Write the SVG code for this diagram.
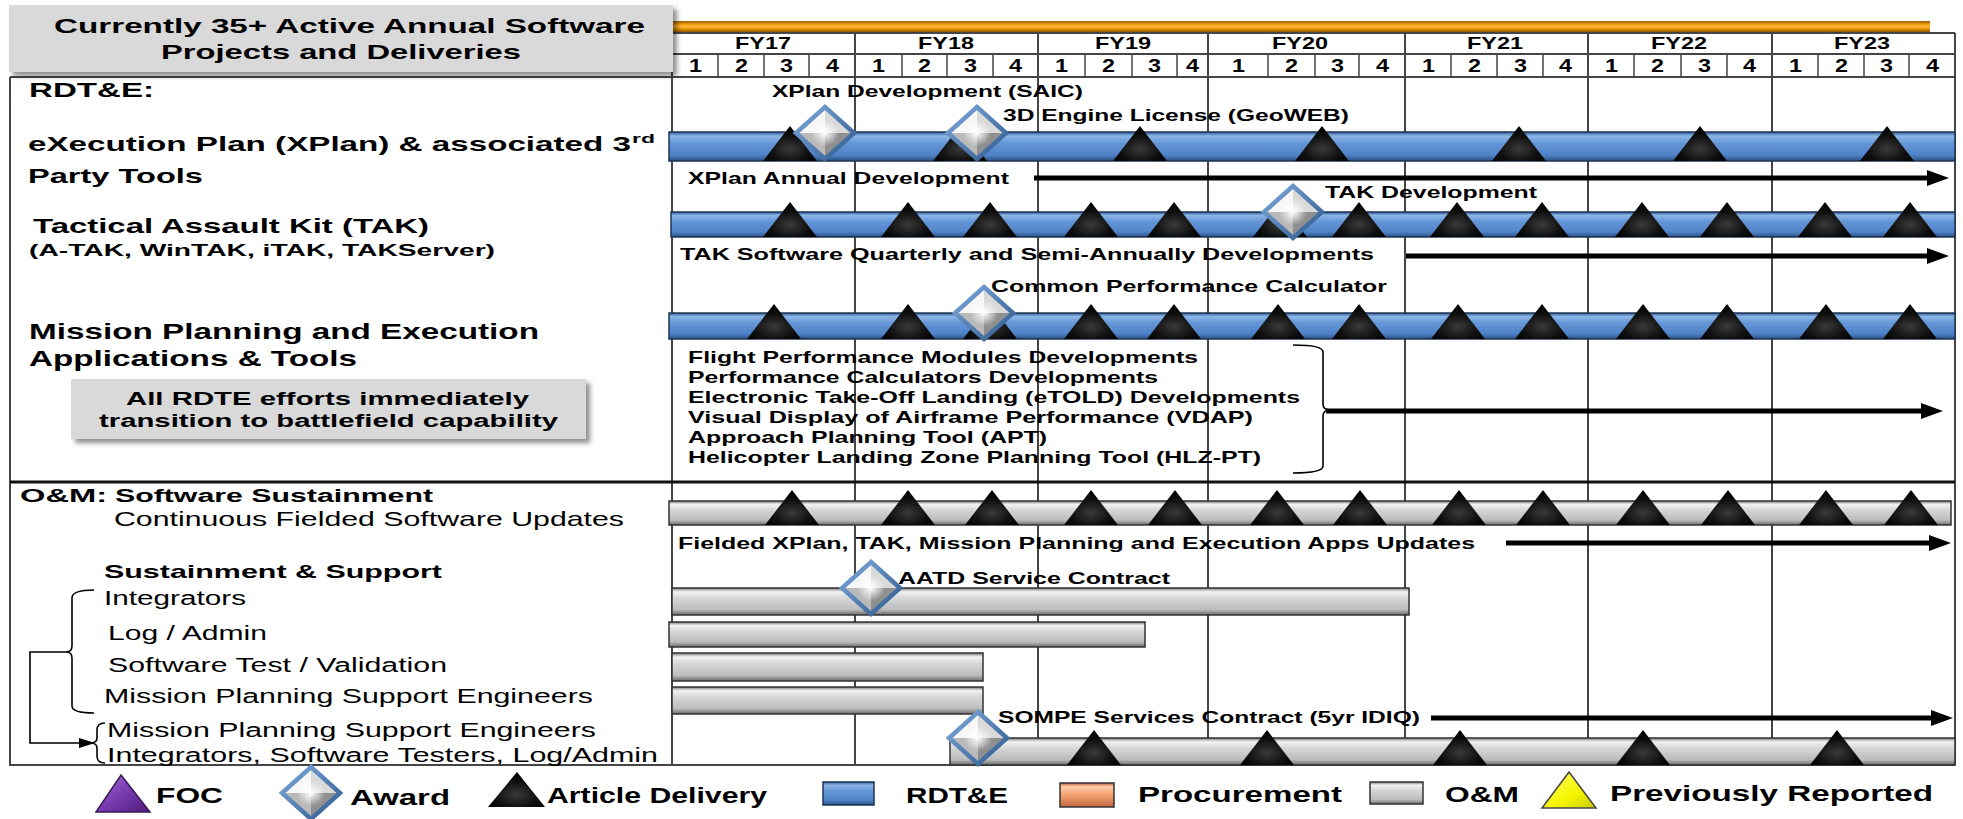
<svg xmlns="http://www.w3.org/2000/svg" width="1963" height="819" viewBox="0 0 1963 819">
<defs>
<style>
.b{font-family:"Liberation Sans",Arial,sans-serif;font-weight:bold;fill:#000}
.r{font-family:"Liberation Sans",Arial,sans-serif;fill:#000}
.gl{stroke:#454545;stroke-width:2;fill:none}
.ql{stroke:#454545;stroke-width:1.5}
.blue{fill:url(#gBlue);stroke:#1e3554;stroke-width:1.5}
.gray{fill:url(#gGray);stroke:#333;stroke-width:1.5}
.arr{stroke:#000;stroke-width:5;fill:none;marker-end:url(#ah)}
.thin{stroke:#000;stroke-width:1.6;fill:none}
</style>
<linearGradient id="gBlue" x1="0" y1="0" x2="0" y2="1">
<stop offset="0" stop-color="#2f5c96"/><stop offset="0.14" stop-color="#8db5e6"/><stop offset="0.38" stop-color="#6597d8"/><stop offset="0.8" stop-color="#4f82c6"/><stop offset="1" stop-color="#2a4f82"/>
</linearGradient>
<linearGradient id="gGray" x1="0" y1="0" x2="0" y2="1">
<stop offset="0" stop-color="#7a7a7a"/><stop offset="0.14" stop-color="#f2f2f2"/><stop offset="0.38" stop-color="#d6d6d6"/><stop offset="0.8" stop-color="#bcbcbc"/><stop offset="1" stop-color="#6a6a6a"/>
</linearGradient>
<linearGradient id="gOrange" x1="0" y1="0" x2="0" y2="1">
<stop offset="0" stop-color="#9a5a00"/><stop offset="0.3" stop-color="#e89a10"/><stop offset="0.5" stop-color="#ffb830"/><stop offset="0.75" stop-color="#e08f00"/><stop offset="1" stop-color="#8f5200"/>
</linearGradient>
<radialGradient id="gTri" cx="0.5" cy="0.65" r="0.6">
<stop offset="0" stop-color="#3a3a3a"/><stop offset="0.6" stop-color="#101010"/><stop offset="1" stop-color="#000"/>
</radialGradient>
<radialGradient id="gGlow" cx="0.5" cy="0.5" r="0.5">
<stop offset="0" stop-color="#fff" stop-opacity="1"/><stop offset="0.45" stop-color="#fff" stop-opacity="0.55"/><stop offset="1" stop-color="#fff" stop-opacity="0"/>
</radialGradient>
<linearGradient id="gDiaEdge" x1="0" y1="0" x2="1" y2="1">
<stop offset="0" stop-color="#7ea9dc"/><stop offset="1" stop-color="#2f5a8e"/>
</linearGradient>
<linearGradient id="gPurple" x1="0" y1="0" x2="1" y2="1">
<stop offset="0" stop-color="#a46ad2"/><stop offset="0.5" stop-color="#7a3bb0"/><stop offset="1" stop-color="#4e1d7a"/>
</linearGradient>
<linearGradient id="gSalmon" x1="0" y1="0" x2="0" y2="1">
<stop offset="0" stop-color="#b5633a"/><stop offset="0.15" stop-color="#fcc9a4"/><stop offset="0.5" stop-color="#f4a274"/><stop offset="1" stop-color="#c0673e"/>
</linearGradient>
<linearGradient id="gYellow" x1="0" y1="0" x2="1" y2="1">
<stop offset="0" stop-color="#ffff70"/><stop offset="0.6" stop-color="#f5f500"/><stop offset="1" stop-color="#caca00"/>
</linearGradient>
<filter id="shadow" x="-5%" y="-10%" width="115%" height="135%">
<feGaussianBlur in="SourceAlpha" stdDeviation="2.5"/><feOffset dx="4" dy="4" result="o"/>
<feComponentTransfer><feFuncA type="linear" slope="0.45"/></feComponentTransfer>
<feMerge><feMergeNode/><feMergeNode in="SourceGraphic"/></feMerge>
</filter>
<path id="tri" d="M0,-35 L27,0 L-27,0 Z" fill="url(#gTri)"/>
<g id="dia">
<path d="M0,-26 L-29,0 L0,0 Z" fill="#f7f7f7"/>
<path d="M0,-26 L29,0 L0,0 Z" fill="#d9d9d9"/>
<path d="M-29,0 L0,26 L0,0 Z" fill="#b9b9b9"/>
<path d="M29,0 L0,26 L0,0 Z" fill="#8f8f8f"/>
<ellipse cx="0" cy="0" rx="14" ry="13" fill="url(#gGlow)"/>
<path d="M0,-26 L29,0 L0,26 L-29,0 Z" fill="none" stroke="url(#gDiaEdge)" stroke-width="4.5"/>
</g>
<marker id="ah" viewBox="0 0 22 16" refX="7" refY="8" markerWidth="22" markerHeight="16" markerUnits="userSpaceOnUse" orient="auto"><path d="M0,0 L22,8 L0,16 Z" fill="#000"/></marker>
<marker id="ahs" viewBox="0 0 16 10" refX="4" refY="5" markerWidth="16" markerHeight="10" markerUnits="userSpaceOnUse" orient="auto"><path d="M0,0 L16,5 L0,10 Z" fill="#000"/></marker>
</defs>

<rect width="1963" height="819" fill="#fff"/>

<!-- timeline header -->
<g id="timeline-header">
<rect x="600" y="21" width="1330" height="11" fill="url(#gOrange)"/>
<path class="gl" d="M672,33 H1955 M672,54 H1955 M672,77 H1955"/>
<path class="gl" d="M672,33 V765 M855,33 V765 M1038,33 V765 M1208,33 V765 M1405,33 V765 M1588,33 V765 M1772,33 V765 M1955,33 V765"/>
<path class="ql" d="M718,54V77 M764,54V77 M809,54V77 M902,54V77 M947,54V77 M993,54V77 M1085,54V77 M1132,54V77 M1177,54V77 M1268,54V77 M1315,54V77 M1359,54V77 M1451,54V77 M1497,54V77 M1543,54V77 M1634,54V77 M1681,54V77 M1727,54V77 M1818,54V77 M1864,54V77 M1909,54V77"/>
<g class="b" font-size="17">
<text x="735" y="49" textLength="56" lengthAdjust="spacingAndGlyphs">FY17</text>
<text x="918" y="49" textLength="56" lengthAdjust="spacingAndGlyphs">FY18</text>
<text x="1095" y="49" textLength="56" lengthAdjust="spacingAndGlyphs">FY19</text>
<text x="1272" y="49" textLength="56" lengthAdjust="spacingAndGlyphs">FY20</text>
<text x="1467" y="49" textLength="56" lengthAdjust="spacingAndGlyphs">FY21</text>
<text x="1651" y="49" textLength="56" lengthAdjust="spacingAndGlyphs">FY22</text>
<text x="1834" y="49" textLength="56" lengthAdjust="spacingAndGlyphs">FY23</text>
</g>
<g class="b" font-size="17.5">
<text x="689" y="72" textLength="13" lengthAdjust="spacingAndGlyphs">1</text><text x="735" y="72" textLength="13" lengthAdjust="spacingAndGlyphs">2</text><text x="780" y="72" textLength="13" lengthAdjust="spacingAndGlyphs">3</text><text x="826" y="72" textLength="13" lengthAdjust="spacingAndGlyphs">4</text>
<text x="872" y="72" textLength="13" lengthAdjust="spacingAndGlyphs">1</text><text x="918" y="72" textLength="13" lengthAdjust="spacingAndGlyphs">2</text><text x="964" y="72" textLength="13" lengthAdjust="spacingAndGlyphs">3</text><text x="1009" y="72" textLength="13" lengthAdjust="spacingAndGlyphs">4</text>
<text x="1055" y="72" textLength="13" lengthAdjust="spacingAndGlyphs">1</text><text x="1102" y="72" textLength="13" lengthAdjust="spacingAndGlyphs">2</text><text x="1148" y="72" textLength="13" lengthAdjust="spacingAndGlyphs">3</text><text x="1186" y="72" textLength="13" lengthAdjust="spacingAndGlyphs">4</text>
<text x="1232" y="72" textLength="13" lengthAdjust="spacingAndGlyphs">1</text><text x="1285" y="72" textLength="13" lengthAdjust="spacingAndGlyphs">2</text><text x="1331" y="72" textLength="13" lengthAdjust="spacingAndGlyphs">3</text><text x="1376" y="72" textLength="13" lengthAdjust="spacingAndGlyphs">4</text>
<text x="1422" y="72" textLength="13" lengthAdjust="spacingAndGlyphs">1</text><text x="1468" y="72" textLength="13" lengthAdjust="spacingAndGlyphs">2</text><text x="1514" y="72" textLength="13" lengthAdjust="spacingAndGlyphs">3</text><text x="1559" y="72" textLength="13" lengthAdjust="spacingAndGlyphs">4</text>
<text x="1605" y="72" textLength="13" lengthAdjust="spacingAndGlyphs">1</text><text x="1651" y="72" textLength="13" lengthAdjust="spacingAndGlyphs">2</text><text x="1698" y="72" textLength="13" lengthAdjust="spacingAndGlyphs">3</text><text x="1743" y="72" textLength="13" lengthAdjust="spacingAndGlyphs">4</text>
<text x="1789" y="72" textLength="13" lengthAdjust="spacingAndGlyphs">1</text><text x="1835" y="72" textLength="13" lengthAdjust="spacingAndGlyphs">2</text><text x="1880" y="72" textLength="13" lengthAdjust="spacingAndGlyphs">3</text><text x="1926" y="72" textLength="13" lengthAdjust="spacingAndGlyphs">4</text>
</g>
</g>

<!-- left panel frame -->
<g id="frame">
<path class="gl" d="M10,77 H672 M10,77 V765 H1955"/>
<path d="M10,482 H1955" stroke="#111" stroke-width="3"/>
</g>

<g id="title-box">
<rect x="9" y="5" width="664" height="67" fill="#d9d9d9" filter="url(#shadow)"/>
<text class="b" x="54" y="33" font-size="21" textLength="591" lengthAdjust="spacingAndGlyphs" fill="#1a1a1a">Currently 35+ Active Annual Software</text>
<text class="b" x="161" y="59" font-size="21" textLength="360" lengthAdjust="spacingAndGlyphs" fill="#1a1a1a">Projects and Deliveries</text>
</g>

<!-- RDT&E section labels -->
<g id="rdte-labels">
<text class="b" x="29" y="97" font-size="20" textLength="125" lengthAdjust="spacingAndGlyphs">RDT&amp;E:</text>
<text class="b" x="28" y="151" font-size="21" textLength="603" lengthAdjust="spacingAndGlyphs">eXecution Plan (XPlan) &amp; associated 3</text>
<text class="b" x="632" y="143" font-size="13" textLength="23" lengthAdjust="spacingAndGlyphs">rd</text>
<text class="b" x="28" y="183" font-size="21" textLength="175" lengthAdjust="spacingAndGlyphs">Party Tools</text>
<text class="b" x="33" y="233" font-size="21" textLength="396" lengthAdjust="spacingAndGlyphs">Tactical Assault Kit (TAK)</text>
<text class="b" x="29" y="256" font-size="17" textLength="466" lengthAdjust="spacingAndGlyphs">(A-TAK, WinTAK, iTAK, TAKServer)</text>
<text class="b" x="29" y="339" font-size="22" textLength="510" lengthAdjust="spacingAndGlyphs">Mission Planning and Execution</text>
<text class="b" x="29" y="366" font-size="22" textLength="328" lengthAdjust="spacingAndGlyphs">Applications &amp; Tools</text>
</g>
<g id="note-box">
<rect x="71" y="379" width="515" height="60" fill="#d9d9d9" filter="url(#shadow)"/>
<text class="b" x="126" y="405" font-size="18" textLength="403" lengthAdjust="spacingAndGlyphs" fill="#1a1a1a">All RDTE efforts immediately</text>
<text class="b" x="99" y="427" font-size="18" textLength="459" lengthAdjust="spacingAndGlyphs" fill="#1a1a1a">transition to battlefield capability</text>
</g>

<!-- O&M section labels -->
<g id="om-labels">
<text class="b" x="20" y="502" font-size="19" textLength="87" lengthAdjust="spacingAndGlyphs">O&amp;M:</text>
<text class="b" x="115" y="502" font-size="18" textLength="318" lengthAdjust="spacingAndGlyphs">Software Sustainment</text>
<text class="r" x="114" y="526" font-size="21" textLength="510" lengthAdjust="spacingAndGlyphs">Continuous Fielded Software Updates</text>
<text class="b" x="104" y="578" font-size="19" textLength="338" lengthAdjust="spacingAndGlyphs">Sustainment &amp; Support</text>
<text class="r" x="104" y="605" font-size="20" textLength="142" lengthAdjust="spacingAndGlyphs">Integrators</text>
<text class="r" x="108" y="640" font-size="20" textLength="159" lengthAdjust="spacingAndGlyphs">Log / Admin</text>
<text class="r" x="108" y="672" font-size="20" textLength="339" lengthAdjust="spacingAndGlyphs">Software Test / Validation</text>
<text class="r" x="104" y="703" font-size="20" textLength="489" lengthAdjust="spacingAndGlyphs">Mission Planning Support Engineers</text>
<text class="r" x="107" y="737" font-size="20" textLength="489" lengthAdjust="spacingAndGlyphs">Mission Planning Support Engineers</text>
<text class="r" x="107" y="762" font-size="20" textLength="551" lengthAdjust="spacingAndGlyphs">Integrators, Software Testers, Log/Admin</text>
</g>

<!-- XPlan row -->
<g id="row-xplan">
<rect class="blue" x="669" y="132" width="1286" height="29"/>
<use href="#tri" x="790" y="161"/><use href="#tri" x="960" y="161"/><use href="#tri" x="1140" y="161"/><use href="#tri" x="1322" y="161"/><use href="#tri" x="1519" y="161"/><use href="#tri" x="1700" y="161"/><use href="#tri" x="1887" y="161"/>
<use href="#dia" x="825" y="133"/><use href="#dia" x="977" y="133"/>
<text class="b" x="772" y="97" font-size="17" textLength="311" lengthAdjust="spacingAndGlyphs">XPlan Development (SAIC)</text>
<text class="b" x="1003" y="121" font-size="17" textLength="346" lengthAdjust="spacingAndGlyphs">3D Engine License (GeoWEB)</text>
<text class="b" x="688" y="184" font-size="17" textLength="321" lengthAdjust="spacingAndGlyphs">XPlan Annual Development</text>
</g>

<!-- TAK row -->
<g id="row-tak">
<rect class="blue" x="671" y="212" width="1284" height="25"/>
<use href="#tri" x="790" y="237"/><use href="#tri" x="908" y="237"/><use href="#tri" x="990" y="237"/><use href="#tri" x="1091" y="237"/><use href="#tri" x="1174" y="237"/><use href="#tri" x="1280" y="237"/><use href="#tri" x="1359" y="237"/><use href="#tri" x="1457" y="237"/><use href="#tri" x="1542" y="237"/><use href="#tri" x="1642" y="237"/><use href="#tri" x="1727" y="237"/><use href="#tri" x="1825" y="237"/><use href="#tri" x="1910" y="237"/>
<use href="#dia" x="1293" y="212"/>
<text class="b" x="1325" y="198" font-size="17" textLength="212" lengthAdjust="spacingAndGlyphs">TAK Development</text>
<text class="b" x="680" y="260" font-size="17" textLength="694" lengthAdjust="spacingAndGlyphs">TAK Software Quarterly and Semi-Annually Developments</text>
</g>

<!-- Mission planning row -->
<g id="row-mission">
<rect class="blue" x="669" y="313" width="1286" height="26"/>
<use href="#tri" x="774" y="339"/><use href="#tri" x="908" y="339"/><use href="#tri" x="990" y="339"/><use href="#tri" x="1091" y="339"/><use href="#tri" x="1174" y="339"/><use href="#tri" x="1278" y="339"/><use href="#tri" x="1359" y="339"/><use href="#tri" x="1458" y="339"/><use href="#tri" x="1542" y="339"/><use href="#tri" x="1643" y="339"/><use href="#tri" x="1727" y="339"/><use href="#tri" x="1826" y="339"/><use href="#tri" x="1910" y="339"/>
<use href="#dia" x="984" y="313"/>
<text class="b" x="991" y="292" font-size="17" textLength="396" lengthAdjust="spacingAndGlyphs">Common Performance Calculator</text>
<g class="b" font-size="16.5">
<text x="688" y="363" textLength="510" lengthAdjust="spacingAndGlyphs">Flight Performance Modules Developments</text>
<text x="688" y="383" textLength="470" lengthAdjust="spacingAndGlyphs">Performance Calculators Developments</text>
<text x="688" y="403" textLength="612" lengthAdjust="spacingAndGlyphs">Electronic Take-Off Landing (eTOLD) Developments</text>
<text x="688" y="423" textLength="565" lengthAdjust="spacingAndGlyphs">Visual Display of Airframe Performance (VDAP)</text>
<text x="688" y="443" textLength="359" lengthAdjust="spacingAndGlyphs">Approach Planning Tool (APT)</text>
<text x="688" y="463" textLength="573" lengthAdjust="spacingAndGlyphs">Helicopter Landing Zone Planning Tool (HLZ-PT)</text>
</g>
</g>

<!-- Continuous updates row -->
<g id="row-continuous">
<rect class="gray" x="669" y="501" width="1282" height="24"/>
<use href="#tri" x="792" y="525"/><use href="#tri" x="908" y="525"/><use href="#tri" x="992" y="525"/><use href="#tri" x="1091" y="525"/><use href="#tri" x="1175" y="525"/><use href="#tri" x="1277" y="525"/><use href="#tri" x="1360" y="525"/><use href="#tri" x="1459" y="525"/><use href="#tri" x="1543" y="525"/><use href="#tri" x="1643" y="525"/><use href="#tri" x="1728" y="525"/><use href="#tri" x="1826" y="525"/><use href="#tri" x="1911" y="525"/>
<text class="b" x="678" y="549" font-size="16" textLength="797" lengthAdjust="spacingAndGlyphs">Fielded XPlan, TAK, Mission Planning and Execution Apps Updates</text>
</g>

<!-- Sustainment rows -->
<g id="row-integrators">
<rect class="gray" x="672" y="588" width="737" height="27"/>
<use href="#dia" x="871" y="588"/>
<text class="b" x="898" y="584" font-size="17" textLength="272" lengthAdjust="spacingAndGlyphs">AATD Service Contract</text>
</g>
<g id="row-logadmin"><rect class="gray" x="669" y="622" width="476" height="25"/></g>
<g id="row-swtest"><rect class="gray" x="672" y="653" width="311" height="28"/></g>
<g id="row-mpse"><rect class="gray" x="672" y="687" width="311" height="27"/></g>
<g id="row-sompe">
<rect class="gray" x="950" y="738" width="1005" height="27"/>
<use href="#tri" x="1094" y="765"/><use href="#tri" x="1267" y="765"/><use href="#tri" x="1460" y="765"/><use href="#tri" x="1643" y="765"/><use href="#tri" x="1837" y="765"/>
<use href="#dia" x="978" y="738"/>
<text class="b" x="998" y="723" font-size="17" textLength="422" lengthAdjust="spacingAndGlyphs">SOMPE Services Contract (5yr IDIQ)</text>
</g>

<!-- connectors -->
<g id="connectors">
<path class="arr" d="M1034,178 H1934"/>
<path class="arr" d="M1406,256 H1934"/>
<path class="arr" d="M1326,411 H1928"/>
<path class="arr" d="M1506,543 H1936"/>
<path class="arr" d="M1431,718 H1938"/>
<path class="thin" d="M1293,345 Q1323,345 1323,352 L1323,404 Q1323,410 1330,410 Q1323,410 1323,416 L1323,466 Q1323,473 1293,473"/>
<path class="thin" d="M94,590 Q72,590 72,598 L72,646 Q72,652 66,652 Q72,652 72,658 L72,706 Q72,713 94,713"/>
<path class="thin" d="M66,652 H30 V743 H83" marker-end="url(#ahs)"/>
<path class="thin" d="M105,723 Q97,723 97,730 L97,738 Q97,743 90,743 Q97,743 97,748 L97,756 Q97,763 105,763"/>
</g>

<!-- legend -->
<g id="legend">
<path d="M121,775 L150,812 L96,812 Z" fill="url(#gPurple)" stroke="#3a1a55" stroke-width="1.5"/>
<text class="b" x="156" y="803" font-size="22" textLength="67" lengthAdjust="spacingAndGlyphs">FOC</text>
<use href="#dia" x="311" y="793"/>
<text class="b" x="350" y="805" font-size="22" textLength="100" lengthAdjust="spacingAndGlyphs">Award</text>
<path d="M517,772 L545,807 L488,807 Z" fill="url(#gTri)"/>
<text class="b" x="547" y="803" font-size="22" textLength="220" lengthAdjust="spacingAndGlyphs">Article Delivery</text>
<rect class="blue" x="823" y="782" width="51" height="23"/>
<text class="b" x="906" y="803" font-size="22" textLength="102" lengthAdjust="spacingAndGlyphs">RDT&amp;E</text>
<rect x="1060" y="783" width="54" height="24" fill="url(#gSalmon)" stroke="#333" stroke-width="1.5"/>
<text class="b" x="1138" y="802" font-size="22" textLength="204" lengthAdjust="spacingAndGlyphs">Procurement</text>
<rect class="gray" x="1370" y="782" width="53" height="22"/>
<text class="b" x="1445" y="802" font-size="22" textLength="74" lengthAdjust="spacingAndGlyphs">O&amp;M</text>
<path d="M1569,772 L1596,808 L1542,808 Z" fill="url(#gYellow)" stroke="#444" stroke-width="1.5"/>
<text class="b" x="1610" y="801" font-size="22" textLength="323" lengthAdjust="spacingAndGlyphs">Previously Reported</text>
</g>
</svg>
